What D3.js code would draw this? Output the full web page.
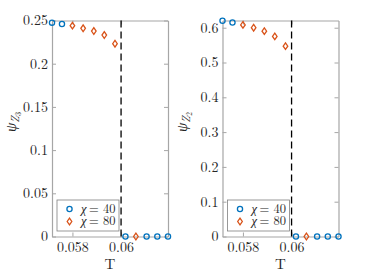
<!DOCTYPE html>
<html>
<head>
<meta charset="utf-8">
<script src="https://cdn.jsdelivr.net/npm/d3@7"></script>
<style>
  body { margin: 0; background: #fff; }
</style>
</head>
<body>
<div id="chart"></div>
<script>
// temperatures and order parameters
const chi40T  = [0.05716, 0.05757, 0.06018, 0.06105, 0.06149, 0.06193];
const chi40Z3 = [0.2475, 0.2459, 0, 0, 0, 0];
const chi40Z2 = [0.620, 0.615, 0, 0, 0, 0];

const chi80T  = [0.05800, 0.05844, 0.05888, 0.05931, 0.05975, 0.06061];
const chi80Z3 = [0.2440, 0.2410, 0.2378, 0.2332, 0.2231, 0];
const chi80Z2 = [0.608, 0.600, 0.590, 0.575, 0.547, 0];

const tDomain = [0.05716, 0.06193];
const tCrit = 0.06;
const xTicks = [0.058, 0.06];
const yTicksZ3 = [0, 0.05, 0.1, 0.15, 0.2, 0.25];
const yTicksZ2 = [0, 0.1, 0.2, 0.3, 0.4, 0.5, 0.6];
const legendLabels = ["40", "80"];

const blue = "#0072BD", orange = "#D95319", axisCol = "#a6a6a6";
const serif = '"Latin Modern Roman", "Liberation Serif", serif';

const svg = d3.select("#chart").append("svg")
  .attr("width", 374).attr("height", 280);

// small diamond marker, taller than wide
const diamondPath = "M0,-3.3L2.3,0L0,3.3L-2.3,0Z";

function panel(left, yMax, yTicks, y40, y80, sub) {
  const w = 116, top = 20.5, bottom = 236.5;
  const x = d3.scaleLinear().domain(tDomain).range([left, left + w]);
  const y = d3.scaleLinear().domain([0, yMax]).range([bottom, top]);
  const g = svg.append("g");

  const fmt = d => String(+d.toFixed(3));

  // axes, ticks pointing inward
  const styleAxis = a => {
    a.select(".domain").attr("stroke", axisCol).attr("stroke-width", 1.2);
    a.selectAll(".tick line").attr("stroke", axisCol);
    a.selectAll("text").attr("fill", "#262626")
      .style("font-family", serif).style("font-size", "14px");
  };
  g.append("g").attr("transform", `translate(0,${bottom})`)
    .call(d3.axisBottom(x).tickValues(xTicks).tickFormat(fmt).tickSizeInner(-4).tickSizeOuter(0).tickPadding(6))
    .call(styleAxis);
  g.append("g").attr("transform", `translate(0,${top})`)
    .call(d3.axisTop(x).tickValues(xTicks).tickFormat("").tickSizeInner(-4).tickSizeOuter(0))
    .call(styleAxis);
  g.append("g").attr("transform", `translate(${left},0)`)
    .call(d3.axisLeft(y).tickValues(yTicks).tickFormat(fmt).tickSizeInner(-4).tickSizeOuter(0).tickPadding(4))
    .call(styleAxis);
  g.append("g").attr("transform", `translate(${left + w},0)`)
    .call(d3.axisRight(y).tickValues(yTicks).tickFormat("").tickSizeInner(-4).tickSizeOuter(0))
    .call(styleAxis);

  // critical temperature
  g.append("line")
    .attr("x1", x(tCrit)).attr("x2", x(tCrit))
    .attr("y1", bottom).attr("y2", top)
    .attr("stroke", "#000").attr("stroke-width", 1.3)
    .attr("stroke-dasharray", "7,4");

  g.selectAll(".c40").data(chi40T).enter().append("circle")
    .attr("cx", d => x(d)).attr("cy", (d, i) => y(y40[i]))
    .attr("r", 2.6).attr("fill", "none").attr("stroke", blue).attr("stroke-width", 1.3);

  g.selectAll(".c80").data(chi80T).enter().append("path")
    .attr("d", diamondPath)
    .attr("transform", (d, i) => `translate(${x(d)},${y(y80[i])})`)
    .attr("fill", "none").attr("stroke", orange).attr("stroke-width", 1.3);

  // legend
  const lx = left + 5, ly = 200;
  g.append("rect").attr("x", lx).attr("y", ly).attr("width", 62).attr("height", 31)
    .attr("fill", "#fff").attr("stroke", "#7f7f7f").attr("stroke-width", 0.8);
  g.append("circle").attr("cx", lx + 12.5).attr("cy", ly + 9)
    .attr("r", 2.6).attr("fill", "none").attr("stroke", blue).attr("stroke-width", 1.3);
  g.append("path").attr("d", diamondPath)
    .attr("transform", `translate(${lx + 12.5},${ly + 21.5})`)
    .attr("fill", "none").attr("stroke", orange).attr("stroke-width", 1.3);
  legendLabels.forEach((lab, i) => {
    const by = ly + 13 + i * 12;
    g.append("text").attr("x", lx + 24).attr("y", by)
      .style("font-family", serif).style("font-size", "12.5px").style("font-style", "italic")
      .attr("fill", "#262626").text("χ");
    g.append("text").attr("x", lx + 32).attr("y", by)
      .style("font-family", serif).style("font-size", "12.5px")
      .attr("fill", "#262626").text("= " + lab);
  });

  // axis labels
  g.append("text").attr("x", left + w / 2).attr("y", 269)
    .attr("text-anchor", "middle").style("font-family", serif).style("font-size", "15px")
    .attr("fill", "#262626").text("T");

  const yl = g.append("text")
    .attr("transform", `translate(${left - 36},122) rotate(-90)`)
    .attr("text-anchor", "middle").style("font-family", serif).style("font-size", "15px")
    .attr("fill", "#262626");
  yl.append("tspan").attr("font-style", "italic").text("ψ");
  yl.append("tspan").attr("font-style", "italic").attr("dy", 3).style("font-size", "11px").text("Z");
  yl.append("tspan").attr("dy", 2).style("font-size", "8px").text(sub);
}

panel(52, 0.25, yTicksZ3, chi40Z3, chi80Z3, "3");
panel(222.5, 0.6207, yTicksZ2, chi40Z2, chi80Z2, "2");
</script>
</body>
</html>
